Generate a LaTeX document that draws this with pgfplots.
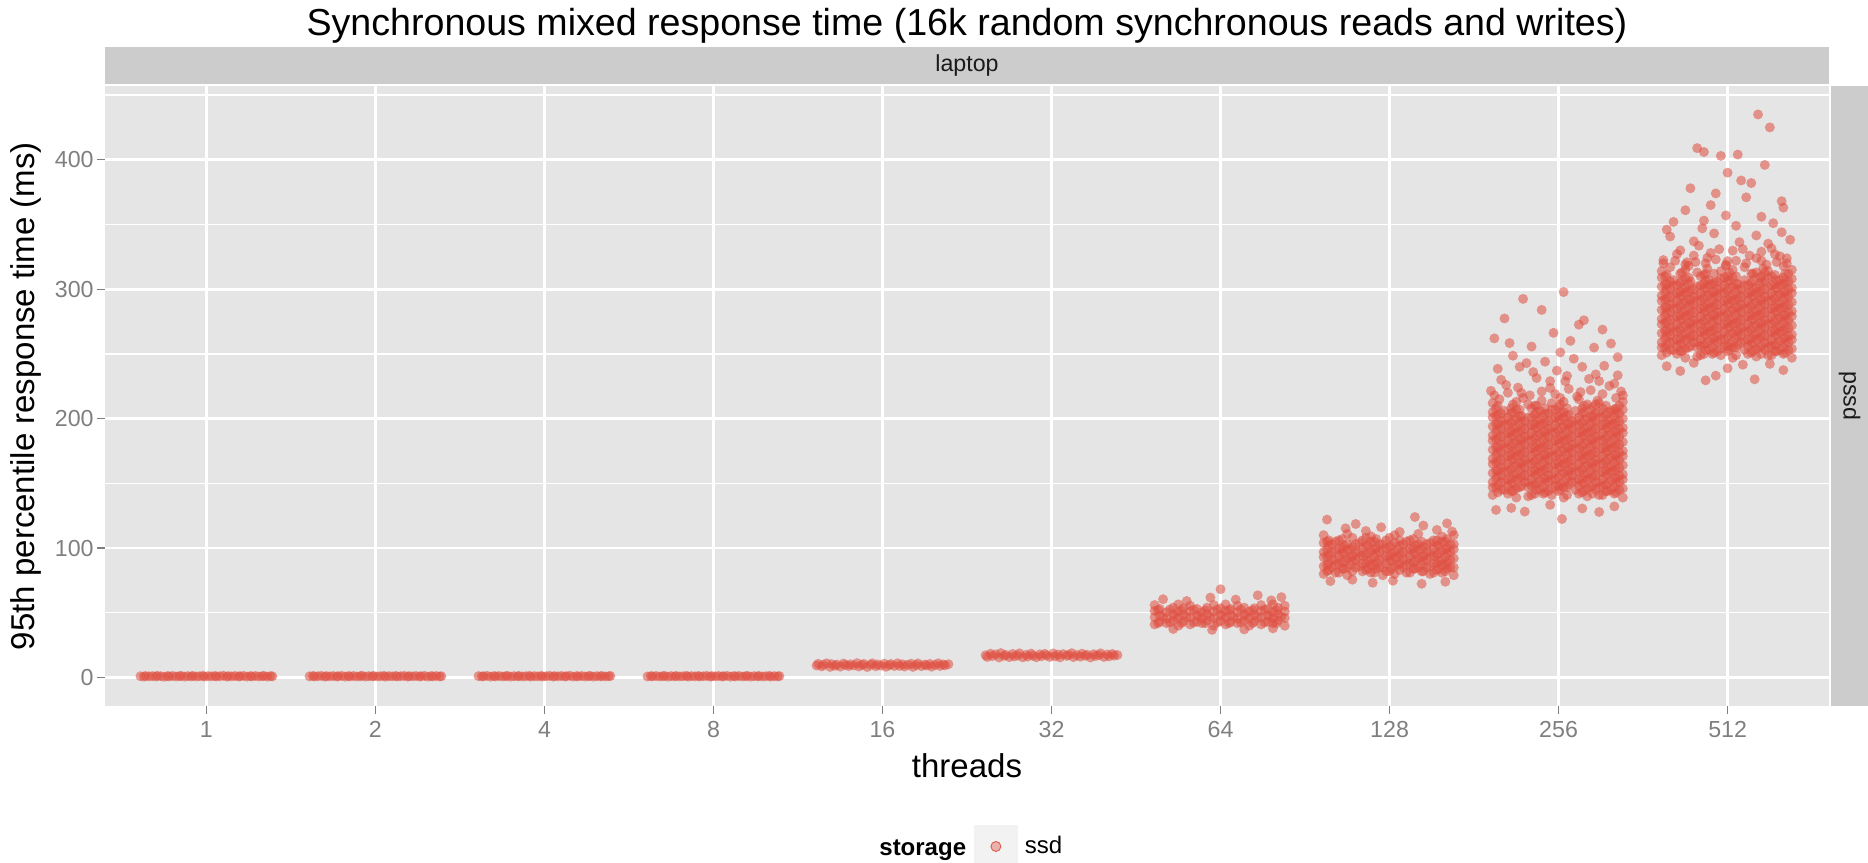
\documentclass[border=0pt]{standalone}
\usepackage{pgfplots}
\pgfplotsset{compat=1.18}
\usepackage{fontspec}
\setmainfont{Liberation Sans}

\definecolor{panelbg}{HTML}{E5E5E5}
\definecolor{stripbg}{HTML}{CCCCCC}
\definecolor{tickgrey}{HTML}{7F7F7F}
\definecolor{striptext}{HTML}{1A1A1A}
\definecolor{keybg}{HTML}{F2F2F2}
\definecolor{ssdred}{RGB}{224,80,66}

\pgfplotsset{
  ssd/.style={only marks, mark=*, mark size=2.5pt, color=ssdred,
    mark options={draw=ssdred, draw opacity=0, line width=0pt,
      fill=ssdred, fill opacity=0.56}},
}

\begin{document}
\begin{tikzpicture}[x=1pt,y=1pt]
\useasboundingbox (0,0) rectangle (934,431);

% facet strips
\fill[stripbg] (52.5,389) rectangle (914.5,407.5);
\node[font=\fontsize{11.6}{13}\selectfont, text=striptext] at (483.5,398.2) {laptop};
\fill[stripbg] (915.5,78) rectangle (934,388);
\node[font=\fontsize{11.6}{13}\selectfont, text=striptext, rotate=-90] at (924.75,233) {pssd};

% title
\node[font=\fontsize{18.8}{22}\selectfont] at (483.5,417.9)
  {Synchronous mixed response time (16k random synchronous reads and writes)};

% legend title
\node[anchor=base west, inner sep=0pt, font=\bfseries\fontsize{12}{14}\selectfont] at (439.5,3.5) {storage};

\begin{axis}[
  at={(52.5pt,78pt)}, anchor=south west,
  scale only axis, width=862pt, height=310pt,
  xmin=0.4, xmax=10.6, ymin=-22, ymax=457,
  axis background/.style={fill=panelbg},
  axis line style={draw=none},
  xtick={1,2,3,4,5,6,7,8,9,10},
  xticklabels={1,2,4,8,16,32,64,128,256,512},
  ytick={0,100,200,300,400},
  minor ytick={50,150,250,350,450},
  grid=both,
  major grid style={white, line width=1.3pt},
  minor grid style={white, line width=0.6pt},
  tick style={tickgrey, line width=0.6pt},
  major tick length=4pt, minor tick length=0pt,
  tick align=outside,
  xtick pos=bottom, ytick pos=left,
  /pgf/number format/assume math mode=true,
  ticklabel style={font=\fontsize{11.6}{13}\selectfont, text=tickgrey},
  yticklabel style={inner xsep=1.5pt},
  xlabel={threads},
  ylabel={95th percentile response time (ms)},
  label style={font=\fontsize{16.5}{18}\selectfont},
  xlabel style={at={(axis description cs:0.5,-0.0968)}, anchor=center},
  ylabel style={at={(axis description cs:-0.0458,0.5)}, anchor=center},
  legend style={at={(axis description cs:0.50406,-0.2266)}, anchor=west,
    draw=none, fill=none, inner sep=0pt, outer sep=0pt,
    font=\fontsize{12}{14}\selectfont, column sep=3.5pt,
    nodes={inner sep=0pt}},
  legend image code/.code={
    \fill[keybg] (0pt,-10.75pt) rectangle (21.5pt,10.75pt);
    \fill[ssdred, fill opacity=0.4] (10.75pt,0pt) circle (2.5pt);
  },
]

% threads = 1
\addplot[ssd] coordinates {
(0.61,1.0)(0.63,0.7)(0.64,1.2)(0.66,0.9)(0.68,1.1)(0.7,0.8)(0.71,1.3)(0.73,1.0)(0.75,0.6)(0.77,1.1)(0.78,0.9)(0.8,1.2)(0.82,0.8)(0.84,1.0)(0.85,1.3)(0.87,0.7)
(0.89,1.1)(0.91,0.9)(0.92,1.2)(0.94,0.8)(0.96,1.0)(0.98,1.3)(0.99,0.7)(1.01,1.1)(1.03,0.9)(1.05,1.2)(1.06,0.8)(1.08,1.0)(1.1,1.4)(1.12,0.7)(1.13,1.1)(1.15,0.9)
(1.17,1.2)(1.19,0.8)(1.2,1.0)(1.22,1.3)(1.24,0.7)(1.26,1.1)(1.27,0.9)(1.29,1.2)(1.31,0.8)(1.33,1.0)(1.34,1.3)(1.36,0.7)(1.38,1.1)(1.39,0.9)
};
\addlegendentry{ssd}

% threads = 2
\addplot[ssd] coordinates {
(1.61,0.9)(1.63,1.2)(1.64,0.8)(1.66,1.0)(1.68,1.3)(1.7,0.7)(1.71,1.1)(1.73,0.9)(1.75,1.2)(1.77,0.8)(1.78,1.0)(1.8,1.3)(1.82,0.7)(1.84,1.1)(1.85,0.9)(1.87,1.2)
(1.89,0.8)(1.91,1.0)(1.92,1.4)(1.94,0.7)(1.96,1.1)(1.98,0.9)(1.99,1.2)(2.01,0.8)(2.03,1.0)(2.05,1.3)(2.06,0.7)(2.08,1.1)(2.1,0.9)(2.12,1.2)(2.13,0.8)(2.15,1.0)
(2.17,1.3)(2.19,0.7)(2.2,1.1)(2.22,0.9)(2.24,1.2)(2.26,0.8)(2.27,1.0)(2.29,1.3)(2.31,0.7)(2.33,1.1)(2.34,0.9)(2.36,1.2)(2.38,0.8)(2.39,1.0)
};

% threads = 4
\addplot[ssd] coordinates {
(2.61,1.1)(2.63,0.8)(2.64,1.0)(2.66,1.3)(2.68,0.7)(2.7,1.1)(2.71,0.9)(2.73,1.2)(2.75,0.8)(2.77,1.0)(2.78,1.3)(2.8,0.7)(2.82,1.1)(2.84,0.9)(2.85,1.2)(2.87,0.8)
(2.89,1.0)(2.91,1.3)(2.92,0.7)(2.94,1.1)(2.96,0.9)(2.98,1.2)(2.99,0.8)(3.01,1.0)(3.03,1.3)(3.05,0.7)(3.06,1.1)(3.08,0.9)(3.1,1.2)(3.12,0.8)(3.13,1.0)(3.15,1.4)
(3.17,0.7)(3.19,1.1)(3.2,0.9)(3.22,1.2)(3.24,0.8)(3.26,1.0)(3.27,1.3)(3.29,0.7)(3.31,1.1)(3.33,0.9)(3.34,1.2)(3.36,0.8)(3.38,1.0)(3.39,1.2)
};

% threads = 8
\addplot[ssd] coordinates {
(3.61,0.8)(3.63,1.1)(3.64,0.9)(3.66,1.2)(3.68,0.8)(3.7,1.0)(3.71,1.3)(3.73,0.7)(3.75,1.1)(3.77,0.9)(3.78,1.2)(3.8,0.8)(3.82,1.0)(3.84,1.3)(3.85,0.7)(3.87,1.1)
(3.89,0.9)(3.91,1.2)(3.92,0.8)(3.94,1.0)(3.96,1.3)(3.98,0.7)(3.99,1.1)(4.01,0.9)(4.03,1.2)(4.05,0.8)(4.06,1.0)(4.08,1.3)(4.1,0.7)(4.12,1.1)(4.13,0.9)(4.15,1.2)
(4.17,0.8)(4.19,1.0)(4.2,1.3)(4.22,0.7)(4.24,1.1)(4.26,0.9)(4.27,1.2)(4.29,0.8)(4.31,1.0)(4.33,1.3)(4.34,0.7)(4.36,1.1)(4.38,0.9)(4.39,1.1)
};

% threads = 16
\addplot[ssd] coordinates {
(4.61,9.3)(4.62,10.6)(4.64,8.6)(4.65,9.8)(4.67,11.0)(4.69,8.2)(4.7,10.3)(4.72,9.1)(4.73,10.0)(4.75,8.4)(4.77,10.8)(4.78,9.6)(4.8,8.8)(4.81,10.2)(4.83,9.4)(4.85,11.1)
(4.86,8.5)(4.88,9.7)(4.89,10.5)(4.91,8.1)(4.93,9.9)(4.94,10.9)(4.96,8.7)(4.97,10.1)(4.99,9.2)(5.01,10.7)(5.02,8.3)(5.04,9.5)(5.05,10.4)(5.07,8.9)(5.09,11.0)(5.1,9.0)
(5.12,10.2)(5.13,8.5)(5.15,9.8)(5.17,10.6)(5.18,8.2)(5.2,9.6)(5.21,10.9)(5.23,8.8)(5.25,10.0)(5.26,9.3)(5.28,10.5)(5.29,8.4)(5.31,9.7)(5.33,11.0)(5.34,8.9)(5.36,10.1)
(5.37,9.4)(5.39,10.3)
};

% threads = 32
\addplot[ssd] coordinates {
(5.61,17.2)(5.62,15.9)(5.64,18.4)(5.65,16.6)(5.67,17.8)(5.69,15.5)(5.7,18.9)(5.72,16.8)(5.73,17.5)(5.75,15.8)(5.77,18.2)(5.78,16.3)(5.8,17.0)(5.81,18.7)(5.83,15.6)(5.85,17.6)
(5.86,16.2)(5.88,18.5)(5.89,16.9)(5.91,15.7)(5.93,17.9)(5.94,16.4)(5.96,18.3)(5.97,17.1)(5.99,15.9)(6.01,18.6)(6.02,16.5)(6.04,17.7)(6.05,15.6)(6.07,18.1)(6.09,16.7)(6.1,17.4)
(6.12,18.8)(6.13,15.8)(6.15,17.3)(6.17,16.1)(6.18,18.4)(6.2,16.8)(6.21,17.6)(6.23,15.5)(6.25,18.0)(6.26,16.6)(6.28,17.2)(6.29,18.7)(6.31,15.9)(6.33,17.8)(6.34,16.3)(6.36,18.2)
(6.37,16.9)(6.39,17.4)
};

% threads = 64
\addplot[ssd] coordinates {
(6.61,41)(6.68,42)(6.75,40)(6.82,41)(6.89,42)(6.96,40)(7.03,41)(7.1,42)(7.17,40)(7.24,41)(7.31,42)(7.38,40)
(6.64,43)(6.72,44)(6.78,43.5)(6.86,43)(6.92,44)(7.0,43.5)(7.06,43)(7.14,44)(7.2,43.5)(7.28,43)(7.34,44)
(6.61,46.5)(6.68,45.5)(6.75,46)(6.82,46.5)(6.89,45.5)(6.96,46)(7.03,46.5)(7.1,45.5)(7.17,46)(7.24,46.5)(7.31,45.5)(7.38,46)
(6.64,48)(6.72,49)(6.78,48.5)(6.86,48)(6.92,49)(7.0,48.5)(7.06,48)(7.14,49)(7.2,48.5)(7.28,48)(7.34,49)
(6.61,51.5)(6.68,50.5)(6.75,51)(6.82,51.5)(6.89,50.5)(6.96,51)(7.03,51.5)(7.1,50.5)(7.17,51)(7.24,51.5)(7.31,50.5)(7.38,51)
(6.64,53)(6.72,54)(6.78,53.5)(6.86,53)(6.92,54)(7.0,53.5)(7.06,53)(7.14,54)(7.2,53.5)(7.28,53)(7.34,54)
(6.61,56)(6.75,56.5)(6.82,55.5)(6.96,56)(7.03,56.5)(7.1,55.5)(7.24,56)(7.31,56.5)(7.38,55.5)
(6.63,42)(6.7,42.5)(6.77,42)(6.84,42.5)(6.91,42)(6.98,42.5)(7.05,42)(7.12,42.5)(7.19,42)(7.26,42.5)(7.33,42)
(6.66,47)(6.73,47.5)(6.8,47)(6.87,47.5)(6.94,47)(7.01,47.5)(7.08,47)(7.15,47.5)(7.22,47)(7.29,47.5)(7.36,47)
(6.63,52)(6.7,52.5)(6.77,52)(6.84,52.5)(6.91,52)(6.98,52.5)(7.05,52)(7.12,52.5)(7.19,52)(7.26,52.5)(7.33,52)
(6.66,60.5)(6.8,59.1)(6.94,61.8)(7.0,68.2)(7.09,60.2)(7.22,63.5)(7.3,59.6)(7.36,62.1)(6.72,37.5)(6.95,36.8)(7.14,37.2)(7.31,38.0)
};

% threads = 128
\addplot[ssd] coordinates {
(7.61,80)(7.68,81)(7.75,79)(7.89,81)(7.96,79)(8.03,80)(8.1,81)(8.24,80)(8.31,81)(8.38,79)
(7.64,83)(7.72,84)(7.78,82)(7.86,83)(7.92,84)(8.0,82)(8.06,83)(8.14,84)(8.2,82)(8.28,83)(8.34,84)
(7.61,86)(7.68,87)(7.75,85)(7.82,86)(7.89,87)(7.96,85)(8.03,86)(8.1,87)(8.17,85)(8.24,86)(8.31,87)(8.38,85)
(7.64,88)(7.72,89)(7.78,90)(7.86,88)(7.92,89)(8.0,90)(8.06,88)(8.14,89)(8.2,90)(8.28,88)(8.34,89)
(7.61,93)(7.68,91)(7.75,92)(7.82,93)(7.89,91)(7.96,92)(8.03,93)(8.1,91)(8.17,92)(8.24,93)(8.31,91)(8.38,92)
(7.64,95)(7.72,96)(7.78,94)(7.86,95)(7.92,96)(8.0,94)(8.06,95)(8.14,96)(8.2,94)(8.28,95)(8.34,96)
(7.61,97)(7.68,98)(7.75,99)(7.82,97)(7.89,98)(7.96,99)(8.03,97)(8.1,98)(8.17,99)(8.24,97)(8.31,98)(8.38,99)
(7.64,102)(7.72,100)(7.78,101)(7.86,102)(7.92,100)(8.0,101)(8.06,102)(8.14,100)(8.2,101)(8.28,102)(8.34,100)
(7.61,104)(7.68,105)(7.75,103)(7.82,104)(7.89,105)(7.96,103)(8.03,104)(8.1,105)(8.17,103)(8.24,104)(8.31,105)(8.38,103)
(7.64,106)(7.72,107)(7.78,108)(7.86,108)(7.92,107)(8.0,108)(8.06,106)(8.14,107)(8.28,106)(8.34,107)
(7.61,110)(7.75,111)(7.89,109)(8.03,110)(8.17,111)(8.31,109)(8.38,110)
(7.63,82)(7.7,81)(7.84,82)(7.91,81)(7.98,82)(8.12,81)(8.19,82)(8.26,81)(8.33,82)
(7.66,85)(7.73,84)(7.8,85)(7.87,84)(7.94,85)(8.01,84)(8.08,85)(8.15,84)(8.22,85)(8.29,84)(8.36,85)
(7.63,87)(7.7,88)(7.77,87)(7.84,88)(7.91,87)(7.98,88)(8.05,87)(8.12,88)(8.19,87)(8.26,88)(8.33,87)
(7.66,91)(7.73,90)(7.8,91)(7.87,90)(7.94,91)(8.01,90)(8.08,91)(8.15,90)(8.22,91)(8.29,90)(8.36,91)
(7.63,93)(7.7,94)(7.77,93)(7.84,94)(7.91,93)(7.98,94)(8.05,93)(8.12,94)(8.19,93)(8.26,94)(8.33,93)
(7.66,97)(7.73,96)(7.8,97)(7.87,96)(7.94,97)(8.01,96)(8.08,97)(8.15,96)(8.22,97)(8.29,96)(8.36,97)
(7.63,99)(7.7,100)(7.77,99)(7.84,100)(7.91,99)(7.98,100)(8.05,99)(8.12,100)(8.19,99)(8.26,100)(8.33,99)
(7.66,103)(7.73,102)(7.8,103)(7.87,102)(7.94,103)(8.01,102)(8.08,103)(8.15,102)(8.22,103)(8.29,102)(8.36,103)
(7.63,105)(7.7,106)(7.84,106)(7.91,105)(7.98,106)(8.12,106)(8.19,105)(8.26,106)(8.33,105)
(7.63,122.0)(7.74,115.3)(7.8,118.6)(7.86,113.2)(7.95,116.1)(8.06,112.5)(8.15,124.0)(8.2,117.4)(8.28,114.0)(8.34,119.1)(8.37,112.8)
(7.65,74.5)(7.78,75.6)(7.9,73.2)(8.02,74.8)(8.19,72.4)(8.33,74.0)
};

% threads = 256
\addplot[ssd] coordinates {
(8.61,141)(8.75,139)(8.82,140)(8.96,141)(9.03,139)(9.17,140)(9.24,141)(9.38,139)
(8.64,143)(8.72,144)(8.86,142)(8.92,143)(9.0,144)(9.14,143)(9.2,142)(9.28,144)(9.34,143)
(8.61,147)(8.68,145)(8.75,146)(8.82,147)(8.89,145)(8.96,146)(9.03,147)(9.1,145)(9.17,146)(9.24,147)(9.31,145)(9.38,146)
(8.64,149)(8.72,150)(8.78,148)(8.86,149)(8.92,150)(9.0,148)(9.06,149)(9.14,150)(9.2,148)(9.28,149)(9.34,150)
(8.61,151)(8.68,152)(8.75,153)(8.82,151)(8.89,152)(8.96,153)(9.03,151)(9.1,152)(9.17,153)(9.24,151)(9.31,152)(9.38,153)
(8.64,156)(8.72,154)(8.78,155)(8.86,156)(8.92,154)(9.0,155)(9.06,156)(9.14,154)(9.2,155)(9.28,156)(9.34,154)
(8.61,158)(8.68,159)(8.75,157)(8.82,158)(8.89,159)(8.96,157)(9.03,158)(9.1,159)(9.17,157)(9.24,158)(9.31,159)(9.38,157)
(8.64,160)(8.72,161)(8.78,162)(8.86,160)(8.92,161)(9.0,162)(9.06,160)(9.14,161)(9.2,162)(9.28,160)(9.34,161)
(8.61,165)(8.68,163)(8.75,164)(8.82,165)(8.89,163)(8.96,164)(9.03,165)(9.1,163)(9.17,164)(9.24,165)(9.31,163)(9.38,164)
(8.64,167)(8.72,168)(8.78,166)(8.86,167)(8.92,168)(9.0,166)(9.06,167)(9.14,168)(9.2,166)(9.28,167)(9.34,168)
(8.61,169)(8.68,170)(8.75,171)(8.82,169)(8.89,170)(8.96,171)(9.03,169)(9.1,170)(9.17,171)(9.24,169)(9.31,170)(9.38,171)
(8.64,174)(8.72,172)(8.78,173)(8.86,174)(8.92,172)(9.0,173)(9.06,174)(9.14,172)(9.2,173)(9.28,174)(9.34,172)
(8.61,176)(8.68,177)(8.75,175)(8.82,176)(8.89,177)(8.96,175)(9.03,176)(9.1,177)(9.17,175)(9.24,176)(9.31,177)(9.38,175)
(8.64,178)(8.72,179)(8.78,180)(8.86,178)(8.92,179)(9.0,180)(9.06,178)(9.14,179)(9.2,180)(9.28,178)(9.34,179)
(8.61,183)(8.68,181)(8.75,182)(8.82,183)(8.89,181)(8.96,182)(9.03,183)(9.1,181)(9.17,182)(9.24,183)(9.31,181)(9.38,182)
(8.64,185)(8.72,186)(8.78,184)(8.86,185)(8.92,186)(9.0,184)(9.06,185)(9.14,186)(9.2,184)(9.28,185)(9.34,186)
(8.61,187)(8.68,188)(8.75,189)(8.82,187)(8.89,188)(8.96,189)(9.03,187)(9.1,188)(9.17,189)(9.24,187)(9.31,188)(9.38,189)
(8.64,192)(8.72,190)(8.78,191)(8.86,192)(8.92,190)(9.0,191)(9.06,192)(9.14,190)(9.2,191)(9.28,192)(9.34,190)
(8.61,194)(8.68,195)(8.75,193)(8.82,194)(8.89,195)(8.96,193)(9.03,194)(9.1,195)(9.17,193)(9.24,194)(9.31,195)(9.38,193)
(8.64,196)(8.72,197)(8.78,198)(8.86,196)(8.92,197)(9.0,198)(9.06,196)(9.14,197)(9.2,198)(9.28,196)(9.34,197)
(8.61,201)(8.68,199)(8.75,200)(8.82,201)(8.89,199)(8.96,200)(9.03,201)(9.1,199)(9.17,200)(9.24,201)(9.31,199)(9.38,200)
(8.64,203)(8.72,204)(8.78,202)(8.86,203)(8.92,204)(9.0,202)(9.06,203)(9.14,204)(9.2,202)(9.28,203)(9.34,204)
(8.61,205)(8.68,206)(8.75,207)(8.89,206)(8.96,207)(9.03,205)(9.1,206)(9.24,205)(9.31,206)(9.38,207)
(8.64,210)(8.72,208)(8.86,210)(8.92,208)(9.0,209)(9.14,208)(9.2,209)(9.28,210)(9.34,208)
(8.61,212)(8.75,213)(8.82,211)(8.96,212)(9.03,213)(9.17,211)(9.24,212)(9.38,213)
(8.65,215)(8.79,216)(8.9,214)(9.01,216)(9.12,215)(9.23,214)(9.34,216)
(8.6,221.5)(8.69,226.0)(8.78,219.8)(8.87,231.4)(8.95,223.7)(9.04,228.9)(9.13,220.6)(9.22,234.2)(9.3,225.3)(9.37,221.0)
(8.64,238.5)(8.81,242.9)(8.99,237.1)(9.09,246.3)(9.27,240.8)(8.73,248.6)(9.18,230.7)(8.92,244.0)(9.35,233.5)(9.01,251.2)
(8.62,262.0)(8.71,258.4)(8.79,292.5)(8.84,255.7)(8.9,284.0)(8.97,266.3)(9.03,297.8)(9.07,260.1)(9.12,272.6)(9.15,276.0)(9.21,254.9)(9.26,268.8)(9.31,258.0)(9.35,247.5)(8.68,277.4)
(8.63,129.5)(8.72,131.0)(8.8,128.2)(8.95,133.4)(9.02,122.5)(9.14,130.6)(9.24,127.9)(9.33,132.2)
};
\addplot[ssd] coordinates {
(8.7,142)(8.84,141)(8.91,142)(9.05,141)(9.12,142)(9.26,141)(9.33,142)
(8.66,145)(8.73,144)(8.87,145)(8.94,144)(9.01,145)(9.15,144)(9.22,145)(9.29,144)(9.36,145)
(8.63,147)(8.7,148)(8.77,147)(8.84,148)(8.91,147)(8.98,148)(9.05,147)(9.12,148)(9.19,147)(9.26,148)(9.33,147)
(8.66,151)(8.73,150)(8.8,151)(8.87,150)(8.94,151)(9.01,150)(9.08,151)(9.15,150)(9.22,151)(9.29,150)(9.36,151)
(8.63,154)(8.7,153)(8.77,154)(8.84,153)(8.91,154)(8.98,153)(9.05,154)(9.12,153)(9.19,154)(9.26,153)(9.33,154)
(8.66,156)(8.73,157)(8.8,156)(8.87,157)(8.94,156)(9.01,157)(9.08,156)(9.15,157)(9.22,156)(9.29,157)(9.36,156)
(8.63,160)(8.7,159)(8.77,160)(8.84,159)(8.91,160)(8.98,159)(9.05,160)(9.12,159)(9.19,160)(9.26,159)(9.33,160)
(8.66,162)(8.73,163)(8.8,162)(8.87,163)(8.94,162)(9.01,163)(9.08,162)(9.15,163)(9.22,162)(9.29,163)(9.36,162)
(8.63,166)(8.7,165)(8.77,166)(8.84,165)(8.91,166)(8.98,165)(9.05,166)(9.12,165)(9.19,166)(9.26,165)(9.33,166)
(8.66,168)(8.73,169)(8.8,168)(8.87,169)(8.94,168)(9.01,169)(9.08,168)(9.15,169)(9.22,168)(9.29,169)(9.36,168)
(8.63,172)(8.7,171)(8.77,172)(8.84,171)(8.91,172)(8.98,171)(9.05,172)(9.12,171)(9.19,172)(9.26,171)(9.33,172)
(8.66,174)(8.73,175)(8.8,174)(8.87,175)(8.94,174)(9.01,175)(9.08,174)(9.15,175)(9.22,174)(9.29,175)(9.36,174)
(8.63,178)(8.7,177)(8.77,178)(8.84,177)(8.91,178)(8.98,177)(9.05,178)(9.12,177)(9.19,178)(9.26,177)(9.33,178)
(8.66,180)(8.73,181)(8.8,180)(8.87,181)(8.94,180)(9.01,181)(9.08,180)(9.15,181)(9.22,180)(9.29,181)(9.36,180)
(8.63,184)(8.7,183)(8.77,184)(8.84,183)(8.91,184)(8.98,183)(9.05,184)(9.12,183)(9.19,184)(9.26,183)(9.33,184)
(8.66,186)(8.73,187)(8.8,186)(8.87,187)(8.94,186)(9.01,187)(9.08,186)(9.15,187)(9.22,186)(9.29,187)(9.36,186)
(8.63,190)(8.7,189)(8.77,190)(8.84,189)(8.91,190)(8.98,189)(9.05,190)(9.12,189)(9.19,190)(9.26,189)(9.33,190)
(8.66,192)(8.73,193)(8.8,192)(8.87,193)(8.94,192)(9.01,193)(9.08,192)(9.15,193)(9.22,192)(9.29,193)(9.36,192)
(8.63,196)(8.7,195)(8.77,196)(8.84,195)(8.91,196)(8.98,195)(9.05,196)(9.12,195)(9.19,196)(9.26,195)(9.33,196)
(8.66,198)(8.73,199)(8.8,198)(8.87,199)(8.94,198)(9.01,199)(9.08,198)(9.15,199)(9.22,198)(9.29,199)(9.36,198)
(8.63,202)(8.7,201)(8.77,202)(8.84,201)(8.91,202)(8.98,201)(9.05,202)(9.12,201)(9.19,202)(9.26,201)(9.33,202)
(8.66,204)(8.73,205)(8.87,205)(8.94,204)(9.01,205)(9.15,205)(9.22,204)(9.29,205)(9.36,204)
(8.63,208)(8.77,207)(8.84,208)(8.98,207)(9.05,208)(9.19,207)(9.26,208)(9.33,207)
(8.73,211)(8.87,210)(9.01,211)(9.15,210)(9.22,211)(9.36,210)
(8.62,218)(8.7,220)(8.76,224)(8.83,218)(8.9,221)(8.98,219)(9.06,223)(9.11,217)(9.19,222)(9.26,219)(9.33,227)(9.38,218)
(8.66,230)(8.85,236)(9.05,233)(9.24,229)(8.95,229)(9.14,240)(8.77,240)
};

% threads = 512
\addplot[ssd] coordinates {
(9.61,249)(9.75,247)(9.82,248)(9.96,249)(10.03,247)(10.17,248)(10.24,249)(10.38,247)
(9.64,251)(9.72,252)(9.86,250)(9.92,251)(10.0,252)(10.14,251)(10.2,250)(10.28,252)(10.34,251)
(9.61,255)(9.68,253)(9.75,254)(9.82,255)(9.89,253)(9.96,254)(10.03,255)(10.1,253)(10.17,254)(10.24,255)(10.31,253)(10.38,254)
(9.64,257)(9.72,258)(9.78,256)(9.86,257)(9.92,258)(10.0,256)(10.06,257)(10.14,258)(10.2,256)(10.28,257)(10.34,258)
(9.61,259)(9.68,260)(9.75,261)(9.82,259)(9.89,260)(9.96,261)(10.03,259)(10.1,260)(10.17,261)(10.24,259)(10.31,260)(10.38,261)
(9.64,264)(9.72,262)(9.78,263)(9.86,264)(9.92,262)(10.0,263)(10.06,264)(10.14,262)(10.2,263)(10.28,264)(10.34,262)
(9.61,266)(9.68,267)(9.75,265)(9.82,266)(9.89,267)(9.96,265)(10.03,266)(10.1,267)(10.17,265)(10.24,266)(10.31,267)(10.38,265)
(9.64,268)(9.72,269)(9.78,270)(9.86,268)(9.92,269)(10.0,270)(10.06,268)(10.14,269)(10.2,270)(10.28,268)(10.34,269)
(9.61,273)(9.68,271)(9.75,272)(9.82,273)(9.89,271)(9.96,272)(10.03,273)(10.1,271)(10.17,272)(10.24,273)(10.31,271)(10.38,272)
(9.64,275)(9.72,276)(9.78,274)(9.86,275)(9.92,276)(10.0,274)(10.06,275)(10.14,276)(10.2,274)(10.28,275)(10.34,276)
(9.61,277)(9.68,278)(9.75,279)(9.82,277)(9.89,278)(9.96,279)(10.03,277)(10.1,278)(10.17,279)(10.24,277)(10.31,278)(10.38,279)
(9.64,282)(9.72,280)(9.78,281)(9.86,282)(9.92,280)(10.0,281)(10.06,282)(10.14,280)(10.2,281)(10.28,282)(10.34,280)
(9.61,284)(9.68,285)(9.75,283)(9.82,284)(9.89,285)(9.96,283)(10.03,284)(10.1,285)(10.17,283)(10.24,284)(10.31,285)(10.38,283)
(9.64,286)(9.72,287)(9.78,288)(9.86,286)(9.92,287)(10.0,288)(10.06,286)(10.14,287)(10.2,288)(10.28,286)(10.34,287)
(9.61,291)(9.68,289)(9.75,290)(9.82,291)(9.89,289)(9.96,290)(10.03,291)(10.1,289)(10.17,290)(10.24,291)(10.31,289)(10.38,290)
(9.64,293)(9.72,294)(9.78,292)(9.86,293)(9.92,294)(10.0,292)(10.06,293)(10.14,294)(10.2,292)(10.28,293)(10.34,294)
(9.61,295)(9.68,296)(9.75,297)(9.82,295)(9.89,296)(9.96,297)(10.03,295)(10.1,296)(10.17,297)(10.24,295)(10.31,296)(10.38,297)
(9.64,300)(9.72,298)(9.78,299)(9.86,300)(9.92,298)(10.0,299)(10.06,300)(10.14,298)(10.2,299)(10.28,300)(10.34,298)
(9.61,302)(9.68,303)(9.75,301)(9.82,302)(9.89,303)(9.96,301)(10.03,302)(10.1,303)(10.17,301)(10.24,302)(10.31,303)(10.38,301)
(9.64,304)(9.72,305)(9.78,306)(9.86,304)(9.92,305)(10.0,306)(10.06,304)(10.14,305)(10.2,306)(10.28,304)(10.34,305)
(9.61,309)(9.68,307)(9.75,308)(9.89,307)(9.96,308)(10.03,309)(10.1,307)(10.24,309)(10.31,307)(10.38,308)
(9.64,311)(9.72,312)(9.86,311)(9.92,312)(10.0,310)(10.14,312)(10.2,310)(10.28,311)(10.34,312)
(9.61,314)(9.75,315)(9.82,313)(9.96,314)(10.03,315)(10.17,313)(10.24,314)(10.38,315)
(9.66,317)(9.77,318)(9.88,316)(9.99,318)(10.1,317)(10.21,316)(10.33,318)
(9.62,322.5)(9.7,327.1)(9.76,320.8)(9.83,333.6)(9.88,324.2)(9.95,330.9)(10.0,321.7)(10.07,336.4)(10.13,326.0)(10.2,322.1)
(10.26,331.5)(10.31,325.4)(10.37,338.2)(9.66,340.7)(9.8,337.0)(9.92,343.1)(10.03,329.8)(10.17,341.5)(10.24,335.2)(10.35,323.9)
(10.18,435)(10.25,425)(9.82,409)(9.86,406)(9.96,403)(10.06,404)(10.22,396)(10.14,382)(10.08,384)(10.32,368)(10.33,363)(9.75,361)(9.86,353)
(9.99,357)(9.9,365)(10.2,356)(10.32,344)(9.85,347)(10.05,349)(9.68,352)(9.93,374)(10.11,371)(9.78,378)(10.27,351)(10.0,390)(9.64,346)
(9.64,240.5)(9.72,236.8)(9.8,243.1)(9.93,233.2)(10.0,238.9)(10.09,241.7)(10.16,230.4)(10.25,242.3)(10.33,237.5)(9.87,229.6)
};
\addplot[ssd] coordinates {
(9.7,250)(9.84,249)(9.91,250)(10.05,249)(10.12,250)(10.26,249)(10.33,250)
(9.66,253)(9.73,252)(9.87,253)(9.94,252)(10.01,253)(10.15,252)(10.22,253)(10.29,252)(10.36,253)
(9.63,255)(9.7,256)(9.77,255)(9.84,256)(9.91,255)(9.98,256)(10.05,255)(10.12,256)(10.19,255)(10.26,256)(10.33,255)
(9.66,259)(9.73,258)(9.8,259)(9.87,258)(9.94,259)(10.01,258)(10.08,259)(10.15,258)(10.22,259)(10.29,258)(10.36,259)
(9.63,262)(9.7,261)(9.77,262)(9.84,261)(9.91,262)(9.98,261)(10.05,262)(10.12,261)(10.19,262)(10.26,261)(10.33,262)
(9.66,264)(9.73,265)(9.8,264)(9.87,265)(9.94,264)(10.01,265)(10.08,264)(10.15,265)(10.22,264)(10.29,265)(10.36,264)
(9.63,268)(9.7,267)(9.77,268)(9.84,267)(9.91,268)(9.98,267)(10.05,268)(10.12,267)(10.19,268)(10.26,267)(10.33,268)
(9.66,270)(9.73,271)(9.8,270)(9.87,271)(9.94,270)(10.01,271)(10.08,270)(10.15,271)(10.22,270)(10.29,271)(10.36,270)
(9.63,274)(9.7,273)(9.77,274)(9.84,273)(9.91,274)(9.98,273)(10.05,274)(10.12,273)(10.19,274)(10.26,273)(10.33,274)
(9.66,276)(9.73,277)(9.8,276)(9.87,277)(9.94,276)(10.01,277)(10.08,276)(10.15,277)(10.22,276)(10.29,277)(10.36,276)
(9.63,280)(9.7,279)(9.77,280)(9.84,279)(9.91,280)(9.98,279)(10.05,280)(10.12,279)(10.19,280)(10.26,279)(10.33,280)
(9.66,282)(9.73,283)(9.8,282)(9.87,283)(9.94,282)(10.01,283)(10.08,282)(10.15,283)(10.22,282)(10.29,283)(10.36,282)
(9.63,286)(9.7,285)(9.77,286)(9.84,285)(9.91,286)(9.98,285)(10.05,286)(10.12,285)(10.19,286)(10.26,285)(10.33,286)
(9.66,288)(9.73,289)(9.8,288)(9.87,289)(9.94,288)(10.01,289)(10.08,288)(10.15,289)(10.22,288)(10.29,289)(10.36,288)
(9.63,292)(9.7,291)(9.77,292)(9.84,291)(9.91,292)(9.98,291)(10.05,292)(10.12,291)(10.19,292)(10.26,291)(10.33,292)
(9.66,294)(9.73,295)(9.8,294)(9.87,295)(9.94,294)(10.01,295)(10.08,294)(10.15,295)(10.22,294)(10.29,295)(10.36,294)
(9.63,298)(9.7,297)(9.77,298)(9.84,297)(9.91,298)(9.98,297)(10.05,298)(10.12,297)(10.19,298)(10.26,297)(10.33,298)
(9.66,300)(9.73,301)(9.8,300)(9.87,301)(9.94,300)(10.01,301)(10.08,300)(10.15,301)(10.22,300)(10.29,301)(10.36,300)
(9.63,304)(9.7,303)(9.77,304)(9.84,303)(9.91,304)(9.98,303)(10.05,304)(10.12,303)(10.19,304)(10.26,303)(10.33,304)
(9.66,306)(9.73,307)(9.87,307)(9.94,306)(10.01,307)(10.15,307)(10.22,306)(10.29,307)(10.36,306)
(9.63,310)(9.77,309)(9.84,310)(9.98,309)(10.05,310)(10.19,309)(10.26,310)(10.33,309)
(9.73,313)(9.87,312)(10.01,313)(10.15,312)(10.22,313)(10.36,312)
(9.62,320)(9.69,322)(9.75,319)(9.81,321)(9.87,320)(9.93,323)(9.99,319)(10.05,322)(10.11,320)(10.17,324)(10.23,319)(10.29,321)(10.35,320)
(9.72,330)(9.9,328)(10.09,331)(10.28,327)(9.8,326)(10.2,329)
};

\end{axis}
\end{tikzpicture}
\end{document}
